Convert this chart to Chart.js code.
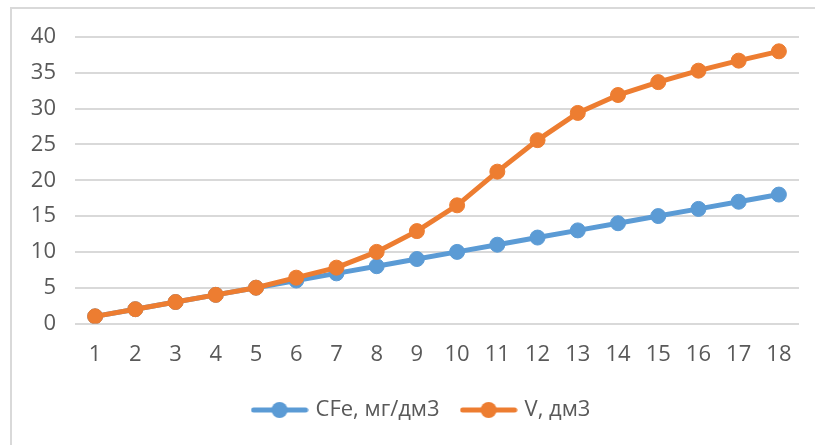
<!DOCTYPE html>
<html>
<head>
<meta charset="utf-8">
<script src="https://cdn.jsdelivr.net/npm/chart.js@4.4.1/dist/chart.umd.min.js"></script>
<style>
  html, body { margin: 0; padding: 0; background: #ffffff; }
  #wrap { position: relative; width: 815px; height: 445px; overflow: hidden; }
  #frame { position: absolute; left: 10px; top: 7px; width: 810px; height: 445px;
           border-top: 2px solid #D9D9D9; border-left: 2px solid #D9D9D9; box-sizing: border-box; }
  canvas { position: absolute; left: 0; top: 0; }
</style>
</head>
<body>
<div id="wrap">
  <div id="frame"></div>
  <canvas id="c" width="815" height="445"></canvas>
</div>
<script>
// Sample numbers along the x axis
const categories = ['1','2','3','4','5','6','7','8','9','10','11','12','13','14','15','16','17','18'];
// Iron concentration, mg/dm3
const cfeValues = [1, 2, 3, 4, 5, 6, 7, 8, 9, 10, 11, 12, 13, 14, 15, 16, 17, 18];
// Volume, dm3
const vValues = [1, 2, 3, 4, 5, 6.4, 7.8, 10, 12.9, 16.5, 21.2, 25.6, 29.4, 31.9, 33.7, 35.3, 36.7, 38];
// Y axis range
const yTicks = [0, 5, 10, 15, 20, 25, 30, 35, 40];

const seriesNames = ['CFe, мг/дм3', 'V, дм3'];
const BLUE = '#5B9BD5';
const ORANGE = '#ED7D31';
const TEXT = '#595959';
const GRID = '#D9D9D9';
const FONT = "'Open Sans', 'Noto Sans', sans-serif";

// Legend swatch: short thick line with a dot in the middle
function lineMarker(color) {
  const cv = document.createElement('canvas');
  cv.width = 58; cv.height = 18;
  const g = cv.getContext('2d');
  g.strokeStyle = color; g.lineWidth = 5; g.lineCap = 'round';
  g.beginPath(); g.moveTo(3, 9); g.lineTo(55, 9); g.stroke();
  g.fillStyle = color;
  g.beginPath(); g.arc(29, 9, 8, 0, Math.PI * 2); g.fill();
  return cv;
}
const markers = [lineMarker(BLUE), lineMarker(ORANGE)];

// Nudge the legend row so it centres under the plot like the original layout
const legendShift = {
  id: 'legendShift',
  afterLayout(chart) {
    const lg = chart.legend;
    if (lg) { lg.left += 23; lg.right += 23; }
  }
};

new Chart(document.getElementById('c'), {
  type: 'line',
  data: {
    labels: categories,
    datasets: [
      { label: seriesNames[0], data: cfeValues, borderColor: BLUE, backgroundColor: BLUE,
        pointBackgroundColor: BLUE, pointBorderColor: BLUE, borderWidth: 5,
        pointRadius: 7.5, pointBorderWidth: 1, tension: 0, order: 1 },
      { label: seriesNames[1], data: vValues, borderColor: ORANGE, backgroundColor: ORANGE,
        pointBackgroundColor: ORANGE, pointBorderColor: ORANGE, borderWidth: 5,
        pointRadius: 7.5, pointBorderWidth: 1, tension: 0, order: 0 }
    ]
  },
  plugins: [legendShift],
  options: {
    responsive: false,
    animation: false,
    devicePixelRatio: 1,
    layout: { padding: { left: 0, right: 16, top: 37, bottom: 14 } },
    plugins: {
      tooltip: { enabled: false },
      legend: {
        position: 'bottom',
        labels: {
          font: { family: FONT, size: 22 },
          color: TEXT,
          usePointStyle: true,
          pointStyleWidth: 50,
          padding: 24,
          sort: (a, b) => a.datasetIndex - b.datasetIndex,
          generateLabels(chart) {
            const items = Chart.defaults.plugins.legend.labels.generateLabels(chart);
            items.forEach(it => { it.pointStyle = markers[it.datasetIndex]; });
            return items;
          }
        }
      }
    },
    scales: {
      x: {
        offset: true,
        grid: { display: false, drawTicks: false },
        border: { display: false },
        ticks: { color: TEXT, font: { family: FONT, size: 22 }, padding: 18, maxRotation: 0, autoSkip: false },
        afterFit(scale) { scale.height = 51.5; }
      },
      y: {
        min: yTicks[0],
        max: yTicks[yTicks.length - 1],
        grid: { color: GRID, lineWidth: 2, drawTicks: false },
        border: { display: false },
        ticks: { stepSize: yTicks[1] - yTicks[0], color: TEXT, font: { family: FONT, size: 22 }, padding: 19 },
        afterFit(scale) { scale.width = 75; }
      }
    }
  }
});
</script>
</body>
</html>
